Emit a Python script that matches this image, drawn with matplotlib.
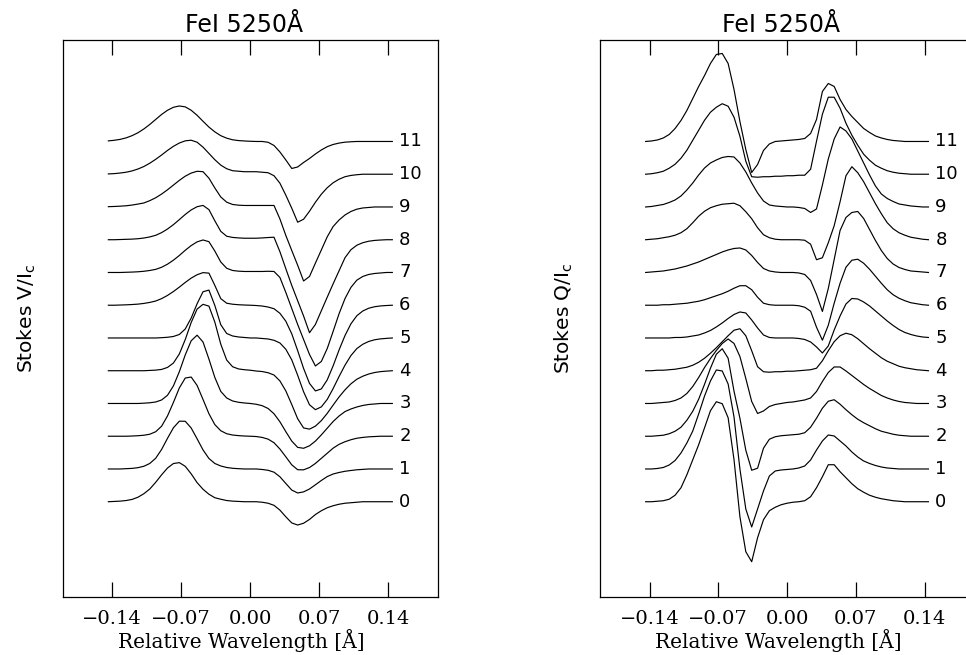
import numpy as np
import matplotlib
matplotlib.use('Agg')
import matplotlib.pyplot as plt

# wavelength sampling of the profiles [A]
wl = np.linspace(-0.144, 0.144, 49)

# Stokes V/Ic profiles, one per position 0..11 (arbitrary units)
v0 = [0, 0.3, 0.6, 1.2, 2.3, 4.5, 8, 12.7, 19.4, 26.9, 33.7, 38.2, 39.1, 35.4, 27.9, 19.1, 12.5, 7.5, 4, 2.5, 1.2, 0.6, 0.3, 0, 0, 0, -0.5, -1.5, -3.6, -8.4, -15.1, -21.2, -23.3, -21.5, -17.7, -12.8, -9, -6, -4, -2.5, -1.5, -1, -0.5, 0, 0, 0, 0, 0, 0]
v1 = [0, 0, 0, 0.3, 0.6, 1.3, 2.7, 5.5, 10.7, 19.5, 30.7, 41.2, 47.8, 47.7, 41, 30.2, 19.1, 10.5, 5.5, 3, 1.5, 0.7, 0.3, 0, 0, 0, -0.5, -1.3, -3.2, -7.8, -14.5, -21.1, -24, -22.9, -20, -15.8, -11.5, -7.6, -5, -3.5, -2.3, -1.5, -0.8, -0.4, 0, 0, 0, 0, 0]
v2 = [0, 0, 0, 0, 0.2, 0.5, 1, 2, 4.5, 10, 20.3, 33.8, 48.3, 58.2, 59.2, 50.8, 36.8, 22.5, 11.6, 5.5, 2.5, 1.2, 0.6, 0.2, 0, -0.3, -1.2, -2.9, -6.5, -12.8, -20.6, -28.6, -33.5, -33.6, -31.3, -27.2, -22.1, -17, -11.9, -8.1, -5.5, -3.5, -2, -1.2, -0.6, -0.3, 0, 0, 0]
v3 = [0, 0, 0, 0, 0, 0, 0.3, 0.7, 1.5, 3.5, 8.2, 17.6, 31.8, 48.6, 62.7, 68.3, 61.5, 44.4, 26, 12.1, 5.5, 2.5, 1.2, 0.5, 0, -0.8, -2.2, -5, -10.3, -18.3, -28.2, -37.6, -43.9, -44.8, -42.3, -37.6, -31.4, -24.7, -18, -12.5, -8.1, -5.5, -3.5, -2, -1, -0.5, 0, 0, 0]
v4 = [0, 0, 0, 0, 0, 0, 0, 0.3, 0.6, 1.3, 3.3, 7.7, 16.8, 31.2, 48.2, 61.6, 66.4, 64.6, 48.6, 26.6, 10.7, 4, 1.8, 1, 0.5, -0.3, -0.8, -2, -4.3, -10.2, -20.2, -33.8, -48, -57.2, -58.4, -55.4, -49.9, -42.6, -34.3, -26.2, -19.1, -13.1, -8.5, -5.5, -3.3, -1.8, -0.9, -0.4, 0]
v5 = [0, 0, 0, 0, 0, 0, 0, 0, 0, 0.3, 0.7, 1.5, 3.5, 9, 19.9, 34.2, 46.2, 47.9, 32.5, 13.3, 4.5, 2, 1, 0.5, 0, 0, -0.5, -1, -2.3, -5, -11.3, -21.9, -37.3, -53.8, -66.8, -71.7, -68.9, -61.4, -50.5, -38.5, -27.2, -17.6, -10.6, -6.3, -3.5, -1.8, -0.9, -0.4, 0]
v6 = [0, 0, 0.2, 0.4, 0.7, 1.1, 1.8, 2.8, 4.2, 6.6, 9.8, 13.7, 18.1, 22.8, 27.1, 30.5, 32.6, 32.1, 19.8, 6.6, 2, 1, 0.5, 0.2, 0, -0.3, -0.8, -1.8, -3.5, -8.1, -16, -28.6, -45.4, -63.2, -78.2, -85.7, -83.7, -74.6, -60.5, -44.7, -30.3, -18.6, -10.5, -5.8, -3, -1.5, -0.7, -0.3, 0]
v7 = [0, 0, 0, 0.2, 0.4, 0.7, 1.2, 2, 3.1, 5.2, 8.3, 12.3, 17, 22.2, 26.9, 30.6, 32.5, 30.8, 21.4, 10.5, 4.2, 2, 1.3, 1, 1, 1, 1, 1.2, 1, -5, -20, -36, -52, -67, -82, -93.5, -89, -76, -58.8, -41.2, -26.1, -14.9, -7.7, -4, -2, -1, -0.5, 0, 0]
v8 = [0, 0, 0.2, 0.4, 0.6, 1, 1.7, 2.8, 4.4, 7.1, 10.7, 15.1, 20.1, 25.3, 29.8, 33, 34.3, 30.1, 18.9, 8.4, 3.5, 2.3, 1.8, 1.5, 1.5, 1.5, 1.8, 2.2, 2.5, -12, -29, -45.7, -61, -76.3, -93, -84.7, -71, -57.4, -44, -31, -18, -10, -5.5, -3, -1.5, -0.7, -0.3, 0, 0]
v9 = [0.3, 0.5, 0.8, 1.2, 1.9, 2.9, 4, 6.3, 9.2, 12.9, 17.2, 21.9, 26.6, 30.8, 33.9, 35.7, 35.3, 28.8, 19, 10, 4.8, 2.5, 1.8, 1.5, 1.5, 1.5, 1.5, 1.5, 1.5, -12, -28.5, -43.5, -58.3, -74, -69.5, -56.1, -43, -29.8, -19.5, -13, -8, -4.5, -2.2, -1, -0.5, 0, 0, 0, 0]
v10 = [0.3, 0.6, 1.2, 2, 3.3, 5.2, 7.7, 11, 14.9, 19.2, 23.8, 27.9, 31.2, 33.4, 34, 32, 27.1, 20.8, 14.5, 9.1, 5.5, 3.5, 3, 2.5, 2.5, 2.5, 2, 1.5, -1.5, -9, -21, -34, -48, -45, -37, -28, -20, -13.5, -8.5, -5, -2.5, -1.2, -0.5, 0, 0, 0, 0, 0, 0]
v11 = [0.6, 1.2, 2.1, 3.6, 5.8, 8.7, 12.5, 17, 22, 27, 31.2, 34.2, 35.5, 34.6, 31.2, 26.2, 20.2, 14.4, 9.6, 5.8, 3.3, 1.7, 0.9, 0.5, 0.2, 0, 0, -0.8, -4, -10.5, -18.5, -27, -25.5, -21, -17, -12.5, -8.5, -5.2, -3, -1.6, -0.7, -0.3, 0, 0, 0, 0, 0, 0, 0]

# Stokes Q/Ic profiles
q0 = [0, 0, 0.5, 1, 2.5, 6.5, 14, 27, 42, 57, 74, 91, 100, 98, 84, 42, -15, -50, -60, -36, -18, -9, -5.5, -3, -1.5, -0.5, 0, 1, 5, 14, 25, 37, 37, 30, 24, 18, 13, 9.5, 6.5, 4.5, 3, 2, 1, 0.5, 0, 0, 0, 0, 0]
q1 = [0, 0, 0.5, 1.5, 4, 8.5, 16, 26, 38, 55, 73, 88, 99, 98, 85, 52, 0, -40, -58, -40, -22, -7, -2, -1, -0.5, 0, 1, 3, 9, 19, 28, 34, 33, 28, 23, 17, 12, 8, 5.5, 3.5, 2, 1, 0.5, 0, 0, 0, 0, 0, 0]
q2 = [0, 0, 0.5, 1, 2.5, 5, 9, 16, 25, 37, 52, 68, 82, 87.5, 78, 45, 18, -14, -34, -32, -12, -3, -0.5, 0.5, 1, 1.5, 2, 3.5, 9, 18, 28, 35, 36.5, 32, 26.5, 21.5, 17, 13.5, 10.5, 7.5, 5, 3.5, 2, 1, 0.5, 0, 0, 0, 0]
q3 = [0, 0, 0.5, 1, 1.5, 3, 5.5, 10, 17, 26, 36, 45, 53, 60, 64.5, 60, 47, 25, 2, -10, -7.5, -3, -1, 0, 1, 1.5, 2.5, 3.5, 5.5, 12, 22, 31, 36.5, 36.5, 32.5, 28, 23.5, 19, 15, 11.5, 8, 5.5, 3.5, 2, 1, 0.5, 0, 0, 0]
q4 = [0, 0, 0.5, 0.5, 1, 1.5, 2.5, 3.5, 5.5, 8.5, 12.5, 17.5, 23, 29, 35, 40.5, 42, 35, 20, 4, -1, -1.5, -1, -1, -0.5, -0.5, 0, 0.5, 1, 2.5, 10, 20, 29, 35, 37.5, 36, 32, 27, 22, 17.5, 13, 9.5, 7, 4.5, 3, 2, 1, 0.5, 0]
q5 = [0, 0, 0, 0, 0, 0.5, 0.5, 1, 2, 3, 5, 7.5, 11, 15, 19.5, 23.5, 26, 25, 18, 10, 3, 0.5, 0, 0, 0, 0, -0.5, -1.5, -4, -9, -15, -8, 8, 22, 34, 39.5, 39, 36, 32, 27, 22, 17, 12.5, 8.5, 5.5, 3.5, 2, 1, 0.5]
q6 = [0, 0, 0, 0.5, 0.5, 1, 1.5, 2, 3, 4, 5.5, 7.5, 9.5, 11.5, 14, 17, 19.5, 19.5, 15.5, 8, 2, 0.5, 0, 0, 0, 0, -0.5, -2, -6, -22, -35, -20, 2, 22, 38, 45, 46, 42, 36, 29, 22, 15.5, 10.5, 7, 4.5, 2.5, 1.5, 0.5, 0]
q7 = [0, 0.5, 1, 1.5, 2.5, 3.5, 5, 6.5, 8.5, 10.5, 13, 15.5, 18, 20.5, 22.5, 24, 24.5, 22.5, 17, 10, 4, 1.5, 0.5, 0, 0, 0, -0.5, -2, -8, -22, -39, -16, 13, 42, 55, 60, 61, 54, 43, 32, 22, 14, 8.5, 5, 3, 1.5, 1, 0.5, 0]
q8 = [0, 0.5, 1, 2, 3, 4.5, 7, 11, 17, 23.5, 28.5, 32, 34, 35.5, 36, 36.5, 34, 28, 21, 12, 5, 2, 0.5, 0, 0, 0, 0, -0.5, -4.5, -20, -18, -3, 14, 38, 64, 73, 67, 58, 47, 36, 26, 17, 11, 7, 4.5, 2.5, 1.5, 0.5, 0]
q9 = [0, 0.5, 1.5, 2.5, 4.5, 7, 11, 17, 24, 32, 39, 44, 47, 49.5, 50.5, 50, 44, 35, 24, 14, 6, 2, 1, 0.5, 0, 0, -0.5, -1.5, -5.5, -2, 22, 48, 68, 80, 76, 68, 56, 44, 32, 21, 13, 8.5, 5.5, 3, 2, 1, 0.5, 0, 0]
q10 = [0, 0.5, 1.5, 3, 6, 10, 16, 24, 34, 44, 54, 62, 67, 70.5, 68, 57, 38, 13, -2.5, -3, -2.5, -2.5, -2, -2, -1.5, -1.5, -1, -1, 5, 33, 60, 77, 77, 66, 51, 39, 29, 20, 14, 9, 6, 3.5, 2, 1, 0.5, 0, 0, 0, 0]
q11 = [0, 0.5, 1.5, 3.5, 7, 13, 21, 31, 43, 55, 66, 78, 87, 88, 78, 52, 20, -8, -31, -23, -9, -2.5, 0, 0.5, 1, 1.5, 2, 3, 8, 22, 50, 58, 55, 42, 32, 25, 19, 13, 9, 5.5, 3.5, 2, 1, 0.5, 0, 0, 0, 0, 0]

v_profiles = [v0, v1, v2, v3, v4, v5, v6, v7, v8, v9, v10, v11]
q_profiles = [q0, q1, q2, q3, q4, q5, q6, q7, q8, q9, q10, q11]

tick_pos = [-0.14, -0.07, 0.0, 0.07, 0.14]
tick_labels = ['\u22120.14', '\u22120.07', '0.00', '0.07', '0.14']

OFFSET = 32.75  # vertical shift between consecutive profiles

fig = plt.figure(figsize=(9.66, 6.55), dpi=100)
ax_v = fig.add_axes([0.0652, 0.0885, 0.3879, 0.8504])
ax_q = fig.add_axes([0.6216, 0.0885, 0.3863, 0.8504])

panels = [(ax_v, v_profiles, 'V'), (ax_q, q_profiles, 'Q')]
for ax, profiles, stokes in panels:
    for i, prof in enumerate(profiles):
        ax.plot(wl, np.array(prof) + i * OFFSET, color='black', lw=0.85)
        ax.text(0.151, i * OFFSET, str(i), va='center', ha='left', fontsize=13)
    ax.set_xlim(-0.19, 0.19)
    ax.set_ylim(-95.3, 461.7)
    ax.set_xticks(tick_pos)
    ax.set_xticklabels(tick_labels, family='DejaVu Serif', fontsize=14)
    ax.tick_params(axis='x', direction='in', top=True, length=10.5, width=0.9, pad=9)
    ax.set_yticks([])
    for sp in ax.spines.values():
        sp.set_linewidth(0.9)
    ax.set_xlabel('Relative Wavelength [\u00c5]', family='DejaVu Serif', fontsize=14.5,
                  labelpad=1, x=0.477)
    ax.set_ylabel('Stokes %s/I$_\\mathrm{c}$' % stokes, fontsize=14.5, labelpad=18)
    ax.set_title('FeI 5250\u00c5', fontsize=17, pad=6, x=0.483)

fig.savefig('out.png', dpi=100)
